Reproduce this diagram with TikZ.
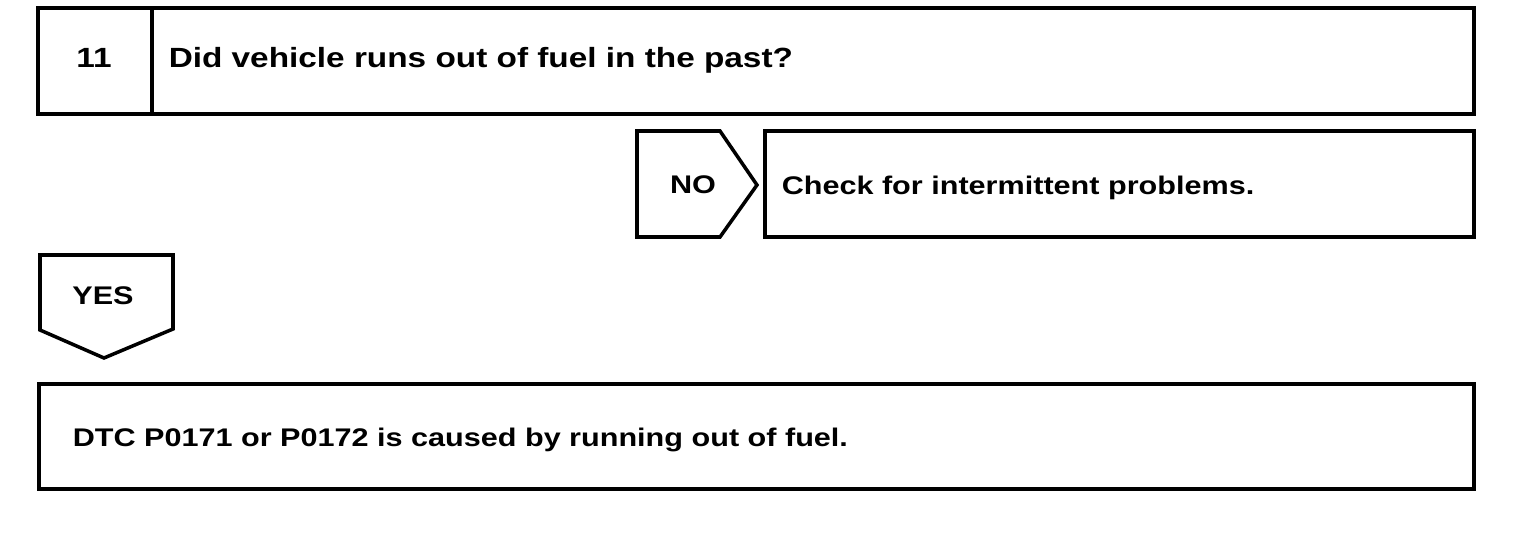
\documentclass[tikz,border=0pt]{standalone}
\usepackage{fontspec}
\setmainfont{Liberation Sans}[FakeStretch=1.2]
\usepackage{tikz}

\begin{document}
\begin{tikzpicture}[x=0.01cm,y=-0.01cm,line width=1pt,line join=miter,
    txt/.style={font=\fontsize{7.25}{9}\selectfont\bfseries,inner sep=0pt},
    bigtxt/.style={font=\fontsize{7.9}{9}\selectfont\bfseries,inner sep=0pt}]
    \useasboundingbox (0,0) rectangle (1520,548);

    % draw question box
    \draw (38,8) rectangle (1474,114);
    \draw (152,8) -- (152,114);
    \node[bigtxt,anchor=base] (stepno) at (94,67) {11};
    \node[bigtxt,anchor=base west] (question) at (167,67) {Did vehicle runs out of fuel in the past?};

    % draw NO branch
    \draw (637,131) -- (720,131) -- (757,185) -- (720,237) -- (637,237) -- cycle;
    \node[txt,anchor=base] (no) at (693,193) {NO};
    \draw (765,131) rectangle (1474,237);
    \node[txt,anchor=base west] (check) at (780,194) {Check for intermittent problems.};

    % draw YES branch
    \draw (40,255) -- (173,255) -- (173,329) -- (104,358) -- (40,330) -- cycle;
    \node[txt,anchor=base] (yes) at (103,304) {YES};
    \draw (39,384) rectangle (1474,489);
    \node[txt,anchor=base west] (cause) at (71,446) {DTC P0171 or P0172 is caused by running out of fuel.};
\end{tikzpicture}
\end{document}
